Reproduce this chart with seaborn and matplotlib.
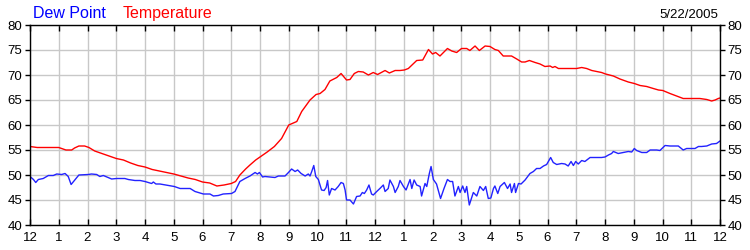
import matplotlib
matplotlib.use("Agg")
import matplotlib.pyplot as plt
import seaborn as sns
import pandas as pd

# ---- data (hours after midnight, degrees F) ----
temp_hours = [0.0, 0.25, 0.5, 0.75, 1.0, 1.15, 1.25, 1.45, 1.55, 1.7, 1.9, 2.05, 2.25, 2.5, 2.75,
              3.0, 3.25, 3.5, 3.75, 4.0, 4.25, 4.5, 4.75, 5.0, 5.25, 5.5, 5.75, 6.0, 6.25, 6.5,
              6.75, 7.0, 7.15, 7.3, 7.5, 7.65, 7.85, 8.0, 8.25, 8.5, 8.75, 9.0, 9.28, 9.45, 9.74,
              9.95, 10.09, 10.26, 10.43, 10.67, 10.82, 11.01, 11.13, 11.28, 11.42, 11.59, 11.77,
              11.94, 12.09, 12.35, 12.5, 12.7, 12.87, 13.02, 13.16, 13.45, 13.66, 13.86, 14.0,
              14.11, 14.26, 14.52, 14.67, 14.84, 15.01, 15.19, 15.3, 15.48, 15.63, 15.83, 16.0,
              16.17, 16.29, 16.46, 16.75, 16.93, 17.1, 17.22, 17.37, 17.57, 17.74, 17.91, 18.09,
              18.18, 18.26, 18.38, 18.67, 19.01, 19.19, 19.36, 19.54, 19.71, 19.88, 20.02, 20.29,
              20.52, 20.81, 21.02, 21.22, 21.45, 21.68, 21.86, 22.01, 22.26, 22.49, 22.72, 23.01,
              23.3, 23.54, 23.71, 23.83, 23.94, 24.0]
temperature = [55.7, 55.5, 55.5, 55.5, 55.5, 55.2, 55.0, 55.0, 55.4, 55.8, 55.8, 55.5, 54.8, 54.3, 53.8,
               53.3, 53.0, 52.4, 51.9, 51.6, 51.1, 50.8, 50.5, 50.2, 49.8, 49.4, 49.1, 48.6, 48.4, 47.8,
               48.0, 48.3, 48.7, 50.0, 51.2, 52.0, 53.0, 53.6, 54.6, 55.7, 57.3, 60.0, 60.7, 62.7, 65.0,
               66.1, 66.3, 67.1, 68.8, 69.5, 70.3, 69.0, 69.1, 70.3, 70.7, 70.6, 70.0,
               70.5, 70.1, 70.9, 70.4, 70.9, 70.9, 71.0, 71.3, 72.9, 73.0, 75.1, 74.2,
               74.5, 73.8, 75.3, 74.8, 74.5, 75.3, 75.3, 74.9, 75.8, 74.9, 75.8, 75.7,
               75.1, 74.9, 73.8, 73.8, 73.2, 72.6, 72.6, 72.9, 72.5, 72.2, 71.7, 71.8,
               71.5, 71.7, 71.3, 71.3, 71.3, 71.5, 71.3, 70.9, 70.7, 70.5, 70.2, 69.8,
               69.2, 68.6, 68.3, 67.9, 67.7, 67.3, 67.0, 66.9, 66.3, 65.8, 65.3, 65.3,
               65.3, 65.1, 64.8, 65.0, 65.3, 65.4]

dew_hours = [0.0, 0.12, 0.2, 0.29, 0.46, 0.64, 0.81, 0.93, 1.1, 1.22, 1.33, 1.43, 1.57, 1.7, 2.03,
             2.14, 2.32, 2.43, 2.55, 2.84, 3.01, 3.3, 3.42, 3.54, 3.65, 3.83, 4.0, 4.23, 4.29, 4.38,
             4.52, 4.81, 5.02, 5.22, 5.57, 5.74, 6.03, 6.26, 6.38, 6.55, 6.72, 7.01, 7.13, 7.3, 7.48,
             7.65, 7.83, 7.91, 7.98, 8.09, 8.17, 8.52, 8.64, 8.87, 8.99, 9.1, 9.22, 9.31, 9.43, 9.51,
             9.57, 9.68, 9.74, 9.8, 9.87, 9.94, 10.03, 10.14, 10.23, 10.3, 10.35, 10.41, 10.49, 10.61,
             10.72, 10.82, 10.9, 10.96, 11.01, 11.13, 11.25, 11.36, 11.48, 11.56, 11.63, 11.71, 11.79,
             11.88, 11.94, 12.06, 12.17, 12.29, 12.35, 12.46, 12.52, 12.64, 12.7, 12.81, 12.87, 12.99,
             13.08, 13.22, 13.28, 13.36, 13.45, 13.57, 13.62, 13.74, 13.8, 13.89, 13.95, 14.03, 14.14,
             14.28, 14.4, 14.52, 14.61, 14.7, 14.78, 14.9, 14.96, 15.05, 15.13, 15.19, 15.28, 15.42,
             15.54, 15.65, 15.77, 15.85, 15.94, 16.03, 16.12, 16.17, 16.27, 16.35, 16.5, 16.61, 16.7,
             16.75, 16.85, 16.89, 16.99, 17.08, 17.22, 17.39, 17.51, 17.62, 17.74, 17.86, 17.97, 18.11,
             18.2, 18.32, 18.49, 18.61, 18.72, 18.82, 18.9, 18.98, 19.07, 19.19, 19.3, 19.48, 19.71,
             19.88, 20.0, 20.12, 20.23, 20.29, 20.46, 20.64, 20.81, 20.93, 21.02, 21.1, 21.28, 21.45,
             21.57, 21.8, 21.91, 22.09, 22.26, 22.55, 22.72, 22.84, 23.13, 23.25, 23.36, 23.54, 23.71,
             23.88, 24.0]
dew_point = [49.7, 49.1, 48.5, 49.1, 49.3, 49.9, 49.9, 50.2, 50.1, 50.3, 49.7, 48.1, 49.1, 50.0, 50.1,
             50.2, 50.1, 49.7, 49.9, 49.2, 49.3, 49.3, 49.1, 49.0, 48.9, 48.9, 48.7, 48.3, 48.6, 48.2,
             48.2, 47.9, 47.7, 47.3, 47.3, 46.7, 46.2, 46.2, 45.8, 45.9, 46.2, 46.3, 46.7, 48.7, 49.3,
             49.8, 50.5, 50.2, 50.5, 49.6, 49.7, 49.5, 49.8, 49.8, 50.5, 51.2, 50.7, 51.0, 50.3, 50.0,
             49.8, 50.2, 49.8, 50.7, 51.9, 49.7, 49.1, 47.0, 46.9, 47.5, 48.9, 46.0, 47.3, 47.0,
             47.7, 48.5, 48.3, 47.0, 45.0, 45.0, 44.2, 45.7, 45.8, 46.5, 46.3, 47.0, 48.0,
             46.2, 46.0, 46.7, 47.3, 48.0, 46.7, 47.3, 49.0, 47.7, 46.5, 47.7, 48.9, 47.7,
             47.0, 49.1, 47.3, 49.0, 48.0, 47.7, 45.8, 48.3, 47.7, 50.3, 51.7, 49.1, 48.2,
             45.3, 47.3, 49.1, 48.7, 48.7, 45.8, 47.7, 46.5, 47.8, 46.5, 47.7, 44.0, 46.5,
             45.8, 47.7, 46.9, 47.7, 45.3, 45.4, 47.3, 47.8, 46.3, 47.7, 48.5, 47.3, 48.2,
             46.5, 48.3, 46.5, 48.3, 48.2, 49.0, 50.3, 50.7, 51.3, 51.3, 51.8, 52.1, 53.5,
             52.5, 52.1, 52.3, 52.2, 51.8, 52.7, 51.9, 52.7, 52.2, 52.9, 52.7, 53.5, 53.5,
             53.5, 53.6, 54.0, 54.3, 54.7, 54.3, 54.5, 54.7, 54.6, 55.3, 54.9, 54.5, 54.5,
             55.0, 55.0, 54.9, 55.9, 55.8, 55.8, 55.0, 55.3, 55.3, 55.7, 55.7, 55.8, 56.2,
             56.3, 56.8]

tick_hours = list(range(25))
tick_labels = ["12", "1", "2", "3", "4", "5", "6", "7", "8", "9", "10", "11",
               "12", "1", "2", "3", "4", "5", "6", "7", "8", "9", "10", "11", "12"]
y_ticks = [40, 45, 50, 55, 60, 65, 70, 75, 80]
date_label = "5/22/2005"

sns.set_theme(style="white")
plt.rcParams["font.family"] = ["Liberation Sans", "DejaVu Sans"]

temp_df = pd.DataFrame({"hour": temp_hours, "value": temperature})
dew_df = pd.DataFrame({"hour": dew_hours, "value": dew_point})

fig = plt.figure(figsize=(7.5, 2.5), dpi=100)
ax = fig.add_axes([0.04, 0.10, 0.92, 0.80])

sns.lineplot(data=temp_df, x="hour", y="value", color="#ff0000", linewidth=1.0, ax=ax)
sns.lineplot(data=dew_df, x="hour", y="value", color="#2222ff", linewidth=1.0, ax=ax)

ax.set_xlim(0, 24)
ax.set_ylim(40, 80)
ax.set_xticks(tick_hours)
ax.set_xticklabels(tick_labels)
ax.set_yticks(y_ticks)
ax.set_xlabel("")
ax.set_ylabel("")

ax.grid(True, color="#c8c8c8", linewidth=1.0)
ax.set_axisbelow(True)
for s in ax.spines.values():
    s.set_color("black")
    s.set_linewidth(1.0)
    s.set_visible(True)

ax.tick_params(axis="x", which="both", direction="in", length=4, width=1, color="black",
               top=True, bottom=True, labeltop=False, labelbottom=True, pad=5,
               labelsize=9.5, labelcolor="black")
ax.tick_params(axis="y", which="both", direction="out", length=3.5, width=1, color="black",
               left=True, right=True, labelleft=True, labelright=True, pad=2,
               labelsize=9.5, labelcolor="black")

fig.text(33 / 750, 1 - 17.5 / 250, "Dew Point", color="#0000ff", fontsize=11.5,
         ha="left", va="baseline")
fig.text(123 / 750, 1 - 17.5 / 250, "Temperature", color="#ff0000", fontsize=11.5,
         ha="left", va="baseline")
fig.text(718 / 750, 1 - 17.5 / 250, date_label, color="black", fontsize=9.5,
         ha="right", va="baseline")

fig.savefig("out.png", dpi=100)
